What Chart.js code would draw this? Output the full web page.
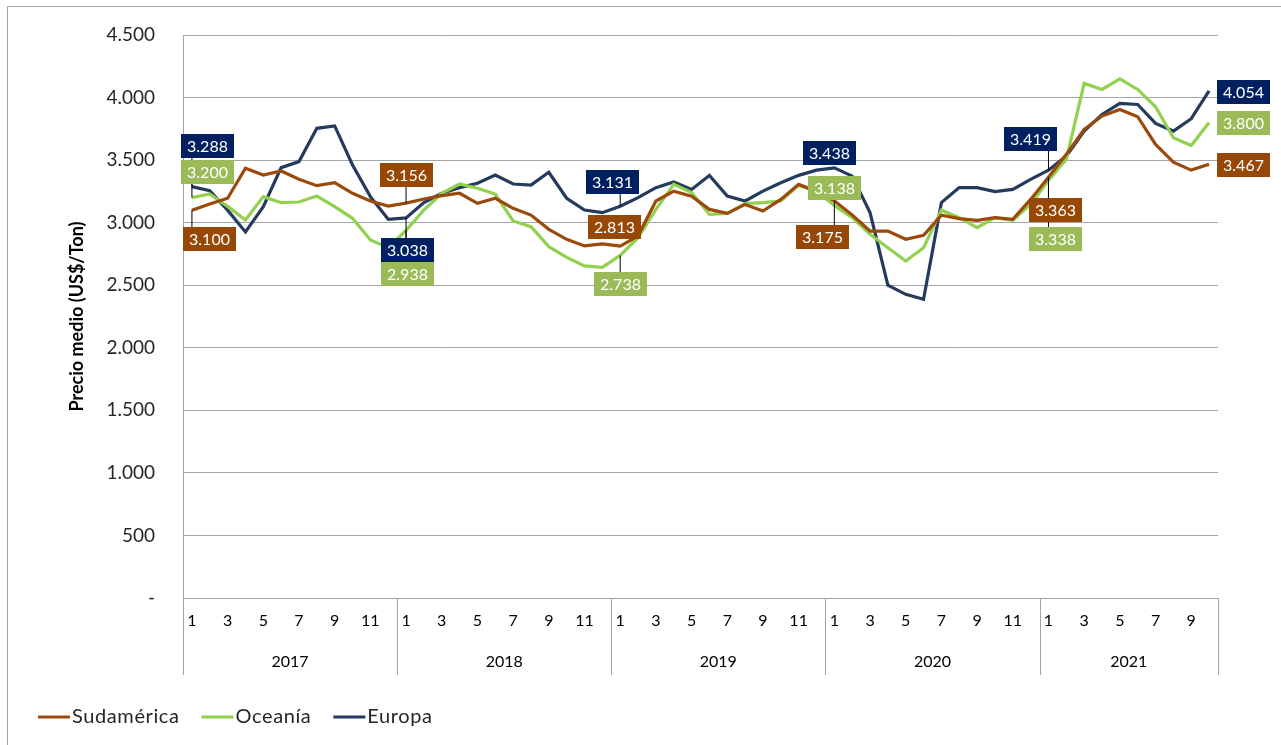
<!DOCTYPE html>
<html>
<head>
<meta charset="utf-8">
<title>Precio medio</title>
<script src="https://cdn.jsdelivr.net/npm/chart.js@4.4.1/dist/chart.umd.min.js"></script>
<style>
    html, body { margin: 0; padding: 0; background: #fff; }
    #wrap { width: 1281px; height: 745px; position: relative; }
</style>
</head>
<body>
<div id="wrap"><canvas id="chart"></canvas></div>
<script>
// Categories: months grouped by year
var years = ["2017", "2018", "2019", "2020", "2021"];
var monthsInYear = [12, 12, 12, 12, 10];

// Y axis ticks
var yTicks = [0, 500, 1000, 1500, 2000, 2500, 3000, 3500, 4000, 4500];

// Series (US$/Ton), Jan 2017 .. Oct 2021
var sudamerica = [
    3100, 3150, 3195, 3435, 3381, 3413, 3347, 3296, 3320, 3235, 3173, 3133,
    3156, 3189, 3216, 3235, 3155, 3195, 3115, 3061, 2947, 2867, 2814, 2830,
    2813, 2893, 3173, 3252, 3212, 3106, 3074, 3146, 3093, 3186, 3306, 3252,
    3175, 3061, 2933, 2933, 2867, 2899, 3060, 3032, 3018, 3040, 3026, 3186,
    3363, 3546, 3745, 3852, 3905, 3847, 3625, 3484, 3420, 3467
];
var oceania = [
    3200, 3230, 3130, 3021, 3208, 3160, 3165, 3213, 3128, 3035, 2862, 2800,
    2938, 3101, 3235, 3309, 3275, 3229, 3014, 2968, 2808, 2723, 2654, 2643,
    2738, 2880, 3106, 3306, 3240, 3066, 3074, 3152, 3160, 3173, 3298, 3252,
    3138, 3040, 2907, 2800, 2693, 2800, 3100, 3040, 2960, 3040, 3018, 3146,
    3338, 3506, 4113, 4065, 4150, 4065, 3926, 3679, 3617, 3800
];
var europa = [
    3288, 3256, 3100, 2926, 3128, 3440, 3488, 3754, 3773, 3461, 3208, 3027,
    3038, 3160, 3235, 3280, 3315, 3381, 3309, 3301, 3403, 3195, 3101, 3080,
    3131, 3200, 3280, 3325, 3266, 3378, 3212, 3173, 3252, 3319, 3378, 3420,
    3438, 3372, 3080, 2500, 2427, 2387, 3160, 3280, 3280, 3248, 3266, 3346,
    3419, 3532, 3732, 3865, 3953, 3945, 3793, 3732, 3831, 4054
];

// points that carry a data label
var labelIdx = [0, 12, 24, 36, 48, 57];

var categories = [];
for (var y = 0; y < years.length; y++) {
    for (var m = 1; m <= monthsInYear[y]; m++) {
        categories.push(String(m));
    }
}

// label box offsets from the point, per dataset, per labelIdx (pixels)
var labelOffsets = [
    [[18, 29], [0, -28], [-6, -19], [-12, 36], [7, 33], [34, 1]],
    [[16, -26], [1, 44], [0, 29], [0, -17], [7, 59], [34, 0]],
    [[16, -41], [1, 32], [-8, -24], [-5, -15], [-18, -31], [34, 1]]
];
var labelColors = ["#974806", "#9BBB59", "#002060"];

var FONT = "Lato, 'Open Sans', sans-serif";

function fmt(v) {
    if (v === 0) return "-";
    if (v < 1000) return String(v);
    return Math.floor(v / 1000) + "." + String(v % 1000).padStart(3, "0");
}

// Data labels with leader lines
var dataLabels = {
    id: "dataLabels",
    afterDatasetsDraw: function (chart) {
        var ctx = chart.ctx;
        var xs = chart.scales.x, ys = chart.scales.y;
        var boxes = [];
        ctx.save();
        ctx.font = "16px " + FONT;
        chart.data.datasets.forEach(function (ds, di) {
            labelIdx.forEach(function (idx, k) {
                var off = labelOffsets[di][k];
                var px = xs.getPixelForValue(idx);
                var py = ys.getPixelForValue(ds.data[idx]);
                var txt = fmt(ds.data[idx]);
                var w = Math.round(ctx.measureText(txt).width + 12), h = 24;
                var bx = Math.round(px + off[0] - w / 2), by = Math.round(py + off[1] - h / 2);
                boxes.push({px: px, py: py, bx: bx, by: by, w: w, h: h, txt: txt, color: labelColors[di]});
            });
        });
        // leader lines first
        ctx.strokeStyle = "#000";
        ctx.lineWidth = 1;
        boxes.forEach(function (b) {
            var nx = Math.max(b.bx, Math.min(b.px, b.bx + b.w));
            var ny = Math.max(b.by, Math.min(b.py, b.by + b.h));
            if (Math.hypot(b.px - nx, b.py - ny) > 10) {
                ctx.beginPath();
                ctx.moveTo(b.px, b.py);
                ctx.lineTo(nx, ny);
                ctx.stroke();
            }
        });
        boxes.forEach(function (b) {
            ctx.fillStyle = b.color;
            ctx.fillRect(b.bx, b.by, b.w, b.h);
            ctx.fillStyle = "#fff";
            ctx.textAlign = "center";
            ctx.textBaseline = "middle";
            ctx.fillText(b.txt, b.bx + b.w / 2, b.by + b.h / 2 + 1);
        });
        ctx.restore();
    }
};

// Year groups under the month ticks, legend and outer frame
var extras = {
    id: "extras",
    afterDraw: function (chart) {
        var ctx = chart.ctx;
        var xs = chart.scales.x;
        var step = (xs.right - xs.left) / categories.length;
        var top = xs.top, bottom = xs.top + 77;
        ctx.save();
        ctx.strokeStyle = "#a6a6a6";
        ctx.lineWidth = 1;
        var start = 0;
        for (var i = 0; i <= years.length; i++) {
            var x = Math.round(xs.left + start * step) + 0.5;
            ctx.beginPath();
            ctx.moveTo(x, top);
            ctx.lineTo(x, bottom);
            ctx.stroke();
            if (i < years.length) {
                ctx.fillStyle = "#000";
                ctx.font = "16px " + FONT;
                ctx.textAlign = "center";
                ctx.textBaseline = "middle";
                ctx.fillText(years[i], xs.left + (start + monthsInYear[i] / 2) * step, top + 64);
                start += monthsInYear[i];
            }
        }

        // legend
        var lx = 38, ly = 717;
        ctx.font = "20px " + FONT;
        ctx.letterSpacing = "0.6px";
        ctx.textAlign = "left";
        ctx.textBaseline = "middle";
        chart.data.datasets.forEach(function (ds) {
            ctx.strokeStyle = ds.borderColor;
            ctx.lineWidth = 3;
            ctx.beginPath();
            ctx.moveTo(lx, ly);
            ctx.lineTo(lx + 32, ly);
            ctx.stroke();
            ctx.fillStyle = "#262626";
            ctx.fillText(ds.label, lx + 34, ly);
            lx += 34 + ctx.measureText(ds.label).width + 22;
        });
        ctx.letterSpacing = "0px";

        // frame
        ctx.strokeStyle = "#a6a6a6";
        ctx.lineWidth = 1;
        ctx.strokeRect(7.5, 6.5, 1290, 760);
        ctx.restore();
    }
};

var ctx1 = document.getElementById("chart").getContext("2d");
var myChart = new Chart(ctx1, {
    type: "line",
    data: {
        labels: categories,
        datasets: [{
            label: "Sudamérica",
            data: sudamerica,
            borderColor: "#9C4A0B",
            backgroundColor: "#9C4A0B"
        }, {
            label: "Oceanía",
            data: oceania,
            borderColor: "#92D050",
            backgroundColor: "#92D050"
        }, {
            label: "Europa",
            data: europa,
            borderColor: "#243B5E",
            backgroundColor: "#243B5E"
        }]
    },
    options: {
        responsive: true,
        maintainAspectRatio: false,
        animation: false,
        devicePixelRatio: 1,
        layout: { padding: { top: 35, right: 63, left: 0, bottom: 70 } },
        elements: {
            line: { borderWidth: 3.2, tension: 0 },
            point: { radius: 0, hoverRadius: 0 }
        },
        plugins: {
            legend: { display: false },
            tooltip: { enabled: false }
        },
        scales: {
            x: {
                offset: true,
                grid: { display: false, drawTicks: false },
                border: { display: true, color: "#a6a6a6" },
                ticks: {
                    autoSkip: false,
                    maxRotation: 0,
                    minRotation: 0,
                    padding: 13,
                    color: "#000",
                    font: { family: FONT, size: 16 },
                    callback: function (val, i) {
                        var m = parseInt(categories[i], 10);
                        return m % 2 === 1 ? categories[i] : "";
                    }
                },
                afterFit: function (scale) {
                    scale.height = 77;
                    scale.paddingLeft = 0;
                    scale.paddingRight = 0;
                }
            },
            y: {
                min: 0,
                max: 4500,
                afterBuildTicks: function (scale) {
                    scale.ticks = yTicks.map(function (v) { return { value: v }; });
                },
                grid: { color: "#a6a6a6", lineWidth: 1, drawTicks: false },
                border: { display: true, color: "#a6a6a6" },
                ticks: {
                    padding: 28,
                    color: "#262626",
                    font: { family: FONT, size: 19 },
                    callback: function (v) { return fmt(v); }
                },
                title: {
                    display: true,
                    text: "Precio medio (US$/Ton)",
                    color: "#000",
                    font: { family: FONT, size: 18, weight: "bold" },
                    padding: { top: 66, bottom: 0 }
                },
                afterFit: function (scale) {
                    scale.width = 183;
                    scale.paddingTop = 0;
                    scale.paddingBottom = 0;
                }
            }
        }
    },
    plugins: [dataLabels, extras]
});
</script>
</body>
</html>
